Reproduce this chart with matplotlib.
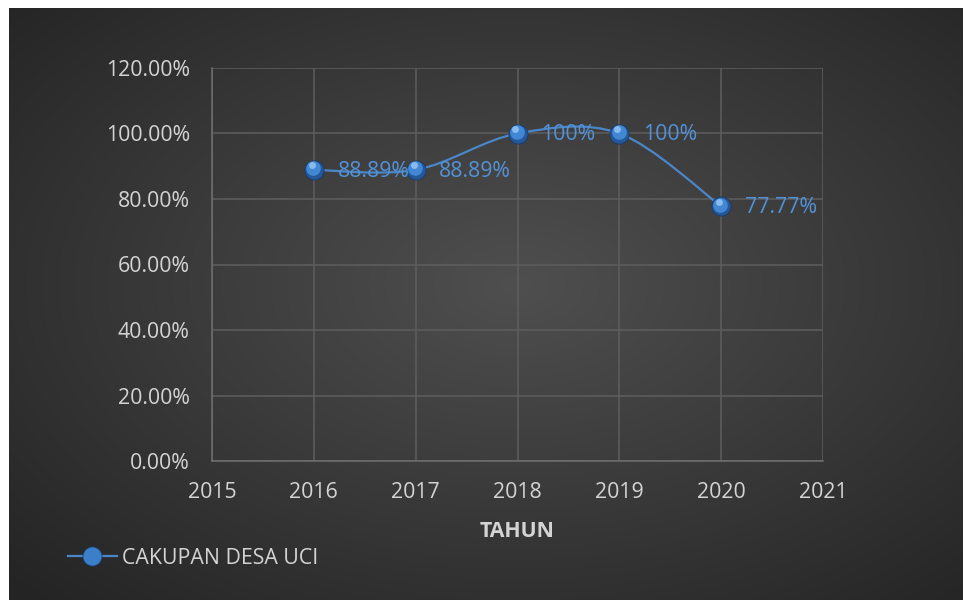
import numpy as np
import matplotlib
matplotlib.use("Agg")
import matplotlib.pyplot as plt
from matplotlib.path import Path
from matplotlib.patches import PathPatch
from matplotlib.lines import Line2D
from matplotlib.ticker import FuncFormatter, MultipleLocator
import matplotlib.transforms as mtransforms

plt.rcParams['font.family'] = ['Open Sans', 'DejaVu Sans']

# data
years = [2016, 2017, 2018, 2019, 2020]
cakupan = [0.8889, 0.8889, 1.0, 1.0, 0.7777]
point_labels = ["88.89%", "88.89%", "100%", "100%", "77.77%"]
series_name = "CAKUPAN DESA UCI"

txt_color = '#d4d4d4'
grid_color = '#5e5e5e'
line_color = '#4a86c8'
label_color = '#5392d8'
fs = 15.3

W, H = 965, 603
fig = plt.figure(figsize=(W / 100, H / 100), dpi=100)
fig.patch.set_facecolor('white')

# dark radial-gradient background of the chart area
bg = fig.add_axes([9 / W, 3 / H, 954 / W, 592 / H])
yy, xx = np.mgrid[0:300, 0:480]
cx, cy = 255, 140
r = np.sqrt(((xx - cx) / 480) ** 2 + ((yy - cy) / 300) ** 2)
r = np.clip(r / 0.72, 0, 1)
shade = 0.31 - 0.165 * r
img = np.dstack([shade, shade, shade])
bg.imshow(img, aspect='auto', extent=[0, 1, 0, 1], interpolation='bilinear')
bg.set_axis_off()

ax = fig.add_axes([212 / W, 1 - 461 / H, 611 / W, 393 / H])
ax.patch.set_alpha(0)

# smoothed line (Excel style) as cubic bezier path through the data points
pts = np.column_stack([years, cakupan]).astype(float)
n = len(pts)
verts = [tuple(pts[0])]
codes = [Path.MOVETO]
for i in range(n - 1):
    p0 = pts[max(i - 1, 0)]
    p1 = pts[i]
    p2 = pts[i + 1]
    p3 = pts[min(i + 2, n - 1)]
    c1 = p1 + (p2 - p0) / 6
    c2 = p2 - (p3 - p1) / 6
    verts += [tuple(c1), tuple(c2), tuple(p2)]
    codes += [Path.CURVE4] * 3
ax.add_patch(PathPatch(Path(verts, codes), facecolor='none', edgecolor=line_color,
                       lw=1.6, zorder=3))

# sphere-like markers: dark base, lighter upper body, small highlight
ax.plot(years, cakupan, ls='none', marker='o', ms=13.8, mfc='#24589a',
        mec='#1a3a66', mew=0.6, zorder=4)
up = ax.transData + mtransforms.ScaledTranslation(-0.6 / 72, 1.2 / 72, fig.dpi_scale_trans)
ax.plot(years, cakupan, ls='none', marker='o', ms=10.5, mfc='#4287d4',
        mec='none', zorder=5, transform=up)
hl = ax.transData + mtransforms.ScaledTranslation(-1.5 / 72, 3.2 / 72, fig.dpi_scale_trans)
ax.plot(years, cakupan, ls='none', marker='o', ms=5, mfc='#8fc0f0',
        mec='none', alpha=0.9, zorder=6, transform=hl)

for x, y, lab in zip(years, cakupan, point_labels):
    ax.annotate(lab, (x, y), xytext=(17, -1), textcoords='offset points',
                ha='left', va='center', color=label_color, fontsize=fs, zorder=7)

ax.set_xlim(2015, 2021)
ax.set_ylim(0, 1.2)
ax.xaxis.set_major_locator(MultipleLocator(1))
ax.yaxis.set_major_locator(MultipleLocator(0.2))
ax.yaxis.set_major_formatter(FuncFormatter(lambda v, p: "{:.2f}%".format(v * 100)))
ax.xaxis.set_major_formatter(FuncFormatter(lambda v, p: "{:d}".format(int(round(v)))))
ax.grid(True, color=grid_color, lw=1.1, zorder=1)
ax.set_axisbelow(True)
for side in ['top', 'right']:
    ax.spines[side].set_visible(False)
for side in ['left', 'bottom']:
    ax.spines[side].set_color('#707070')
    ax.spines[side].set_linewidth(1.1)
ax.tick_params(length=0, colors=txt_color, labelsize=fs)
ax.tick_params(axis='x', pad=15)
ax.tick_params(axis='y', pad=16)
ax.set_xlabel("TAHUN", color=txt_color, fontsize=fs, fontweight='bold', labelpad=13)

# legend proxy handle
h = Line2D([], [], color=line_color, lw=1.6, marker='o', ms=13.8,
           mfc='#3b7fc9', mec='#1a3a66', mew=0.6)
leg = fig.legend([h], [series_name], loc='center left',
                 bbox_to_anchor=(57 / W, 1 - 558 / H), frameon=False,
                 handlelength=2.3, handletextpad=0.25, borderpad=0,
                 fontsize=fs, labelcolor=txt_color)

fig.savefig("out.png", dpi=100, facecolor='white')
